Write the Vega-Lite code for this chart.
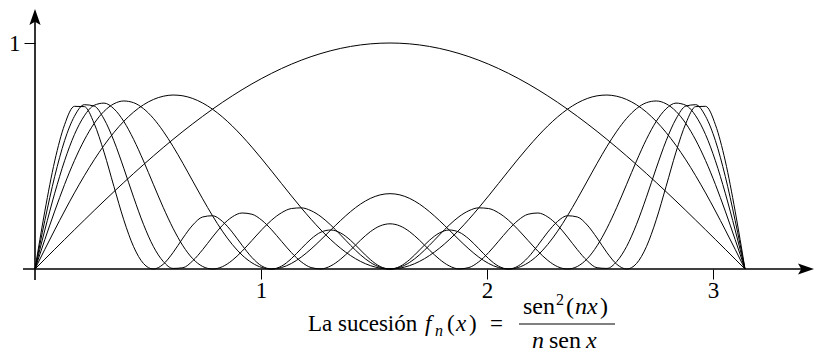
{
  "$schema": "https://vega.github.io/schema/vega-lite/v6.json",
  "width": 782,
  "height": 269,
  "autosize": {"type": "none"},
  "padding": {"left": 35, "top": 0, "right": 0, "bottom": 83},
  "background": "white",
  "config": {"view": {"stroke": null}},
  "layer": [
    {
      "data": {"values": [
        {"n":1,"x":0,"y":0},{"n":1,"x":0.0436,"y":0.0436},{"n":1,"x":0.0873,"y":0.0872},{"n":1,"x":0.1309,"y":0.1305},{"n":1,"x":0.1745,"y":0.1736},{"n":1,"x":0.2182,"y":0.2164},{"n":1,"x":0.2618,"y":0.2588},{"n":1,"x":0.3054,"y":0.3007},{"n":1,"x":0.3491,"y":0.342},{"n":1,"x":0.3927,"y":0.3827},{"n":1,"x":0.4363,"y":0.4226},{"n":1,"x":0.48,"y":0.4617},{"n":1,"x":0.5236,"y":0.5},{"n":1,"x":0.5672,"y":0.5373},{"n":1,"x":0.6109,"y":0.5736},{"n":1,"x":0.6545,"y":0.6088},{"n":1,"x":0.6981,"y":0.6428},{"n":1,"x":0.7418,"y":0.6756},{"n":1,"x":0.7854,"y":0.7071},{"n":1,"x":0.829,"y":0.7373},{"n":1,"x":0.8727,"y":0.766},{"n":1,"x":0.9163,"y":0.7934},{"n":1,"x":0.9599,"y":0.8192},{"n":1,"x":1.0036,"y":0.8434},{"n":1,"x":1.0472,"y":0.866},{"n":1,"x":1.0908,"y":0.887},{"n":1,"x":1.1345,"y":0.9063},{"n":1,"x":1.1781,"y":0.9239},{"n":1,"x":1.2217,"y":0.9397},{"n":1,"x":1.2654,"y":0.9537},{"n":1,"x":1.309,"y":0.9659},{"n":1,"x":1.3526,"y":0.9763},{"n":1,"x":1.3963,"y":0.9848},{"n":1,"x":1.4399,"y":0.9914},{"n":1,"x":1.4835,"y":0.9962},{"n":1,"x":1.5272,"y":0.999},{"n":1,"x":1.5708,"y":1},{"n":1,"x":1.6144,"y":0.999},{"n":1,"x":1.6581,"y":0.9962},{"n":1,"x":1.7017,"y":0.9914},{"n":1,"x":1.7453,"y":0.9848},{"n":1,"x":1.789,"y":0.9763},{"n":1,"x":1.8326,"y":0.9659},{"n":1,"x":1.8762,"y":0.9537},{"n":1,"x":1.9199,"y":0.9397},{"n":1,"x":1.9635,"y":0.9239},{"n":1,"x":2.0071,"y":0.9063},{"n":1,"x":2.0508,"y":0.887},{"n":1,"x":2.0944,"y":0.866},{"n":1,"x":2.138,"y":0.8434},{"n":1,"x":2.1817,"y":0.8192},{"n":1,"x":2.2253,"y":0.7934},{"n":1,"x":2.2689,"y":0.766},{"n":1,"x":2.3126,"y":0.7373},{"n":1,"x":2.3562,"y":0.7071},{"n":1,"x":2.3998,"y":0.6756},{"n":1,"x":2.4435,"y":0.6428},{"n":1,"x":2.4871,"y":0.6088},{"n":1,"x":2.5307,"y":0.5736},{"n":1,"x":2.5744,"y":0.5373},{"n":1,"x":2.618,"y":0.5},{"n":1,"x":2.6616,"y":0.4617},{"n":1,"x":2.7053,"y":0.4226},{"n":1,"x":2.7489,"y":0.3827},{"n":1,"x":2.7925,"y":0.342},{"n":1,"x":2.8362,"y":0.3007},{"n":1,"x":2.8798,"y":0.2588},{"n":1,"x":2.9234,"y":0.2164},{"n":1,"x":2.9671,"y":0.1736},{"n":1,"x":3.0107,"y":0.1305},{"n":1,"x":3.0543,"y":0.0872},{"n":1,"x":3.098,"y":0.0436},{"n":1,"x":3.1416,"y":0},
        {"n":2,"x":0,"y":0},{"n":2,"x":0.0436,"y":0.0871},{"n":2,"x":0.0873,"y":0.173},{"n":2,"x":0.1309,"y":0.2566},{"n":2,"x":0.1745,"y":0.3368},{"n":2,"x":0.2182,"y":0.4126},{"n":2,"x":0.2618,"y":0.483},{"n":2,"x":0.3054,"y":0.547},{"n":2,"x":0.3491,"y":0.604},{"n":2,"x":0.3927,"y":0.6533},{"n":2,"x":0.4363,"y":0.6943},{"n":2,"x":0.48,"y":0.7266},{"n":2,"x":0.5236,"y":0.75},{"n":2,"x":0.5672,"y":0.7644},{"n":2,"x":0.6109,"y":0.7698},{"n":2,"x":0.6545,"y":0.7663},{"n":2,"x":0.6981,"y":0.7544},{"n":2,"x":0.7418,"y":0.7345},{"n":2,"x":0.7854,"y":0.7071},{"n":2,"x":0.829,"y":0.673},{"n":2,"x":0.8727,"y":0.633},{"n":2,"x":0.9163,"y":0.588},{"n":2,"x":0.9599,"y":0.539},{"n":2,"x":1.0036,"y":0.487},{"n":2,"x":1.0472,"y":0.433},{"n":2,"x":1.0908,"y":0.3782},{"n":2,"x":1.1345,"y":0.3237},{"n":2,"x":1.1781,"y":0.2706},{"n":2,"x":1.2217,"y":0.2199},{"n":2,"x":1.2654,"y":0.1725},{"n":2,"x":1.309,"y":0.1294},{"n":2,"x":1.3526,"y":0.0915},{"n":2,"x":1.3963,"y":0.0594},{"n":2,"x":1.4399,"y":0.0338},{"n":2,"x":1.4835,"y":0.0151},{"n":2,"x":1.5272,"y":0.0038},{"n":2,"x":1.5708,"y":0},{"n":2,"x":1.6144,"y":0.0038},{"n":2,"x":1.6581,"y":0.0151},{"n":2,"x":1.7017,"y":0.0338},{"n":2,"x":1.7453,"y":0.0594},{"n":2,"x":1.789,"y":0.0915},{"n":2,"x":1.8326,"y":0.1294},{"n":2,"x":1.8762,"y":0.1725},{"n":2,"x":1.9199,"y":0.2199},{"n":2,"x":1.9635,"y":0.2706},{"n":2,"x":2.0071,"y":0.3237},{"n":2,"x":2.0508,"y":0.3782},{"n":2,"x":2.0944,"y":0.433},{"n":2,"x":2.138,"y":0.487},{"n":2,"x":2.1817,"y":0.539},{"n":2,"x":2.2253,"y":0.588},{"n":2,"x":2.2689,"y":0.633},{"n":2,"x":2.3126,"y":0.673},{"n":2,"x":2.3562,"y":0.7071},{"n":2,"x":2.3998,"y":0.7345},{"n":2,"x":2.4435,"y":0.7544},{"n":2,"x":2.4871,"y":0.7663},{"n":2,"x":2.5307,"y":0.7698},{"n":2,"x":2.5744,"y":0.7644},{"n":2,"x":2.618,"y":0.75},{"n":2,"x":2.6616,"y":0.7266},{"n":2,"x":2.7053,"y":0.6943},{"n":2,"x":2.7489,"y":0.6533},{"n":2,"x":2.7925,"y":0.604},{"n":2,"x":2.8362,"y":0.547},{"n":2,"x":2.8798,"y":0.483},{"n":2,"x":2.9234,"y":0.4126},{"n":2,"x":2.9671,"y":0.3368},{"n":2,"x":3.0107,"y":0.2566},{"n":2,"x":3.0543,"y":0.173},{"n":2,"x":3.098,"y":0.0871},{"n":2,"x":3.1416,"y":0},
        {"n":3,"x":0,"y":0},{"n":3,"x":0.0436,"y":0.1302},{"n":3,"x":0.0873,"y":0.2562},{"n":3,"x":0.1309,"y":0.374},{"n":3,"x":0.1745,"y":0.4799},{"n":3,"x":0.2182,"y":0.5707},{"n":3,"x":0.2618,"y":0.644},{"n":3,"x":0.3054,"y":0.6977},{"n":3,"x":0.3491,"y":0.731},{"n":3,"x":0.3927,"y":0.7435},{"n":3,"x":0.4363,"y":0.7359},{"n":3,"x":0.48,"y":0.7096},{"n":3,"x":0.5236,"y":0.6667},{"n":3,"x":0.5672,"y":0.6098},{"n":3,"x":0.6109,"y":0.5422},{"n":3,"x":0.6545,"y":0.4674},{"n":3,"x":0.6981,"y":0.3889},{"n":3,"x":0.7418,"y":0.3105},{"n":3,"x":0.7854,"y":0.2357},{"n":3,"x":0.829,"y":0.1676},{"n":3,"x":0.8727,"y":0.1088},{"n":3,"x":0.9163,"y":0.0615},{"n":3,"x":0.9599,"y":0.0273},{"n":3,"x":1.0036,"y":0.0067},{"n":3,"x":1.0472,"y":0},{"n":3,"x":1.0908,"y":0.0064},{"n":3,"x":1.1345,"y":0.0246},{"n":3,"x":1.1781,"y":0.0528},{"n":3,"x":1.2217,"y":0.0887},{"n":3,"x":1.2654,"y":0.1295},{"n":3,"x":1.309,"y":0.1726},{"n":3,"x":1.3526,"y":0.2149},{"n":3,"x":1.3963,"y":0.2539},{"n":3,"x":1.4399,"y":0.287},{"n":3,"x":1.4835,"y":0.3122},{"n":3,"x":1.5272,"y":0.328},{"n":3,"x":1.5708,"y":0.3333},{"n":3,"x":1.6144,"y":0.328},{"n":3,"x":1.6581,"y":0.3122},{"n":3,"x":1.7017,"y":0.287},{"n":3,"x":1.7453,"y":0.2539},{"n":3,"x":1.789,"y":0.2149},{"n":3,"x":1.8326,"y":0.1726},{"n":3,"x":1.8762,"y":0.1295},{"n":3,"x":1.9199,"y":0.0887},{"n":3,"x":1.9635,"y":0.0528},{"n":3,"x":2.0071,"y":0.0246},{"n":3,"x":2.0508,"y":0.0064},{"n":3,"x":2.0944,"y":0},{"n":3,"x":2.138,"y":0.0067},{"n":3,"x":2.1817,"y":0.0273},{"n":3,"x":2.2253,"y":0.0615},{"n":3,"x":2.2689,"y":0.1088},{"n":3,"x":2.3126,"y":0.1676},{"n":3,"x":2.3562,"y":0.2357},{"n":3,"x":2.3998,"y":0.3105},{"n":3,"x":2.4435,"y":0.3889},{"n":3,"x":2.4871,"y":0.4674},{"n":3,"x":2.5307,"y":0.5422},{"n":3,"x":2.5744,"y":0.6098},{"n":3,"x":2.618,"y":0.6667},{"n":3,"x":2.6616,"y":0.7096},{"n":3,"x":2.7053,"y":0.7359},{"n":3,"x":2.7489,"y":0.7435},{"n":3,"x":2.7925,"y":0.731},{"n":3,"x":2.8362,"y":0.6977},{"n":3,"x":2.8798,"y":0.644},{"n":3,"x":2.9234,"y":0.5707},{"n":3,"x":2.9671,"y":0.4799},{"n":3,"x":3.0107,"y":0.374},{"n":3,"x":3.0543,"y":0.2562},{"n":3,"x":3.098,"y":0.1302},{"n":3,"x":3.1416,"y":0},
        {"n":4,"x":0,"y":0},{"n":4,"x":0.0436,"y":0.1728},{"n":4,"x":0.0873,"y":0.3355},{"n":4,"x":0.1309,"y":0.4788},{"n":4,"x":0.1745,"y":0.5949},{"n":4,"x":0.2182,"y":0.6778},{"n":4,"x":0.2618,"y":0.7244},{"n":4,"x":0.3054,"y":0.7341},{"n":4,"x":0.3491,"y":0.7089},{"n":4,"x":0.3927,"y":0.6533},{"n":4,"x":0.4363,"y":0.5737},{"n":4,"x":0.48,"y":0.4781},{"n":4,"x":0.5236,"y":0.375},{"n":4,"x":0.5672,"y":0.273},{"n":4,"x":0.6109,"y":0.1801},{"n":4,"x":0.6545,"y":0.1027},{"n":4,"x":0.6981,"y":0.0455},{"n":4,"x":0.7418,"y":0.0112},{"n":4,"x":0.7854,"y":0},{"n":4,"x":0.829,"y":0.0102},{"n":4,"x":0.8727,"y":0.0382},{"n":4,"x":0.9163,"y":0.0788},{"n":4,"x":0.9599,"y":0.1261},{"n":4,"x":1.0036,"y":0.174},{"n":4,"x":1.0472,"y":0.2165},{"n":4,"x":1.0908,"y":0.2489},{"n":4,"x":1.1345,"y":0.2675},{"n":4,"x":1.1781,"y":0.2706},{"n":4,"x":1.2217,"y":0.258},{"n":4,"x":1.2654,"y":0.2315},{"n":4,"x":1.309,"y":0.1941},{"n":4,"x":1.3526,"y":0.1503},{"n":4,"x":1.3963,"y":0.1049},{"n":4,"x":1.4399,"y":0.063},{"n":4,"x":1.4835,"y":0.0294},{"n":4,"x":1.5272,"y":0.0076},{"n":4,"x":1.5708,"y":0},{"n":4,"x":1.6144,"y":0.0076},{"n":4,"x":1.6581,"y":0.0294},{"n":4,"x":1.7017,"y":0.063},{"n":4,"x":1.7453,"y":0.1049},{"n":4,"x":1.789,"y":0.1503},{"n":4,"x":1.8326,"y":0.1941},{"n":4,"x":1.8762,"y":0.2315},{"n":4,"x":1.9199,"y":0.258},{"n":4,"x":1.9635,"y":0.2706},{"n":4,"x":2.0071,"y":0.2675},{"n":4,"x":2.0508,"y":0.2489},{"n":4,"x":2.0944,"y":0.2165},{"n":4,"x":2.138,"y":0.174},{"n":4,"x":2.1817,"y":0.1261},{"n":4,"x":2.2253,"y":0.0788},{"n":4,"x":2.2689,"y":0.0382},{"n":4,"x":2.3126,"y":0.0102},{"n":4,"x":2.3562,"y":0},{"n":4,"x":2.3998,"y":0.0112},{"n":4,"x":2.4435,"y":0.0455},{"n":4,"x":2.4871,"y":0.1027},{"n":4,"x":2.5307,"y":0.1801},{"n":4,"x":2.5744,"y":0.273},{"n":4,"x":2.618,"y":0.375},{"n":4,"x":2.6616,"y":0.4781},{"n":4,"x":2.7053,"y":0.5737},{"n":4,"x":2.7489,"y":0.6533},{"n":4,"x":2.7925,"y":0.7089},{"n":4,"x":2.8362,"y":0.7341},{"n":4,"x":2.8798,"y":0.7244},{"n":4,"x":2.9234,"y":0.6778},{"n":4,"x":2.9671,"y":0.5949},{"n":4,"x":3.0107,"y":0.4788},{"n":4,"x":3.0543,"y":0.3355},{"n":4,"x":3.098,"y":0.1728},{"n":4,"x":3.1416,"y":0},
        {"n":5,"x":0,"y":0},{"n":5,"x":0.0436,"y":0.2148},{"n":5,"x":0.0873,"y":0.4099},{"n":5,"x":0.1309,"y":0.5678},{"n":5,"x":0.1745,"y":0.6759},{"n":5,"x":0.2182,"y":0.727},{"n":5,"x":0.2618,"y":0.721},{"n":5,"x":0.3054,"y":0.6638},{"n":5,"x":0.3491,"y":0.5671},{"n":5,"x":0.3927,"y":0.4461},{"n":5,"x":0.4363,"y":0.3176},{"n":5,"x":0.48,"y":0.1977},{"n":5,"x":0.5236,"y":0.1},{"n":5,"x":0.5672,"y":0.0337},{"n":5,"x":0.6109,"y":0.0026},{"n":5,"x":0.6545,"y":0.0056},{"n":5,"x":0.6981,"y":0.0364},{"n":5,"x":0.7418,"y":0.0855},{"n":5,"x":0.7854,"y":0.1414},{"n":5,"x":0.829,"y":0.193},{"n":5,"x":0.8727,"y":0.2305},{"n":5,"x":0.9163,"y":0.2478},{"n":5,"x":0.9599,"y":0.2423},{"n":5,"x":1.0036,"y":0.2157},{"n":5,"x":1.0472,"y":0.1732},{"n":5,"x":1.0908,"y":0.1226},{"n":5,"x":1.1345,"y":0.0726},{"n":5,"x":1.1781,"y":0.0317},{"n":5,"x":1.2217,"y":0.0064},{"n":5,"x":1.2654,"y":0.0004},{"n":5,"x":1.309,"y":0.0139},{"n":5,"x":1.3526,"y":0.0437},{"n":5,"x":1.3963,"y":0.0839},{"n":5,"x":1.4399,"y":0.127},{"n":5,"x":1.4835,"y":0.1649},{"n":5,"x":1.5272,"y":0.1908},{"n":5,"x":1.5708,"y":0.2},{"n":5,"x":1.6144,"y":0.1908},{"n":5,"x":1.6581,"y":0.1649},{"n":5,"x":1.7017,"y":0.127},{"n":5,"x":1.7453,"y":0.0839},{"n":5,"x":1.789,"y":0.0437},{"n":5,"x":1.8326,"y":0.0139},{"n":5,"x":1.8762,"y":0.0004},{"n":5,"x":1.9199,"y":0.0064},{"n":5,"x":1.9635,"y":0.0317},{"n":5,"x":2.0071,"y":0.0726},{"n":5,"x":2.0508,"y":0.1226},{"n":5,"x":2.0944,"y":0.1732},{"n":5,"x":2.138,"y":0.2157},{"n":5,"x":2.1817,"y":0.2423},{"n":5,"x":2.2253,"y":0.2478},{"n":5,"x":2.2689,"y":0.2305},{"n":5,"x":2.3126,"y":0.193},{"n":5,"x":2.3562,"y":0.1414},{"n":5,"x":2.3998,"y":0.0855},{"n":5,"x":2.4435,"y":0.0364},{"n":5,"x":2.4871,"y":0.0056},{"n":5,"x":2.5307,"y":0.0026},{"n":5,"x":2.5744,"y":0.0337},{"n":5,"x":2.618,"y":0.1},{"n":5,"x":2.6616,"y":0.1977},{"n":5,"x":2.7053,"y":0.3176},{"n":5,"x":2.7489,"y":0.4461},{"n":5,"x":2.7925,"y":0.5671},{"n":5,"x":2.8362,"y":0.6638},{"n":5,"x":2.8798,"y":0.721},{"n":5,"x":2.9234,"y":0.727},{"n":5,"x":2.9671,"y":0.6759},{"n":5,"x":3.0107,"y":0.5678},{"n":5,"x":3.0543,"y":0.4099},{"n":5,"x":3.098,"y":0.2148},{"n":5,"x":3.1416,"y":0},
        {"n":6,"x":0,"y":0},{"n":6,"x":0.0436,"y":0.256},{"n":6,"x":0.0873,"y":0.4781},{"n":6,"x":0.1309,"y":0.6384},{"n":6,"x":0.1745,"y":0.7198},{"n":6,"x":0.2182,"y":0.7185},{"n":6,"x":0.2618,"y":0.644},{"n":6,"x":0.3054,"y":0.5171},{"n":6,"x":0.3491,"y":0.3655},{"n":6,"x":0.3927,"y":0.2178},{"n":6,"x":0.4363,"y":0.0986},{"n":6,"x":0.48,"y":0.0242},{"n":6,"x":0.5236,"y":0},{"n":6,"x":0.5672,"y":0.0208},{"n":6,"x":0.6109,"y":0.0726},{"n":6,"x":0.6545,"y":0.1369},{"n":6,"x":0.6981,"y":0.1945},{"n":6,"x":0.7418,"y":0.2302},{"n":6,"x":0.7854,"y":0.2357},{"n":6,"x":0.829,"y":0.2109},{"n":6,"x":0.8727,"y":0.1632},{"n":6,"x":0.9163,"y":0.105},{"n":6,"x":0.9599,"y":0.0509},{"n":6,"x":1.0036,"y":0.0132},{"n":6,"x":1.0472,"y":0},{"n":6,"x":1.0908,"y":0.0126},{"n":6,"x":1.1345,"y":0.046},{"n":6,"x":1.1781,"y":0.0902},{"n":6,"x":1.2217,"y":0.133},{"n":6,"x":1.2654,"y":0.1631},{"n":6,"x":1.309,"y":0.1726},{"n":6,"x":1.3526,"y":0.1593},{"n":6,"x":1.3963,"y":0.1269},{"n":6,"x":1.4399,"y":0.0841},{"n":6,"x":1.4835,"y":0.0418},{"n":6,"x":1.5272,"y":0.0112},{"n":6,"x":1.5708,"y":0},{"n":6,"x":1.6144,"y":0.0112},{"n":6,"x":1.6581,"y":0.0418},{"n":6,"x":1.7017,"y":0.0841},{"n":6,"x":1.7453,"y":0.1269},{"n":6,"x":1.789,"y":0.1593},{"n":6,"x":1.8326,"y":0.1726},{"n":6,"x":1.8762,"y":0.1631},{"n":6,"x":1.9199,"y":0.133},{"n":6,"x":1.9635,"y":0.0902},{"n":6,"x":2.0071,"y":0.046},{"n":6,"x":2.0508,"y":0.0126},{"n":6,"x":2.0944,"y":0},{"n":6,"x":2.138,"y":0.0132},{"n":6,"x":2.1817,"y":0.0509},{"n":6,"x":2.2253,"y":0.105},{"n":6,"x":2.2689,"y":0.1632},{"n":6,"x":2.3126,"y":0.2109},{"n":6,"x":2.3562,"y":0.2357},{"n":6,"x":2.3998,"y":0.2302},{"n":6,"x":2.4435,"y":0.1945},{"n":6,"x":2.4871,"y":0.1369},{"n":6,"x":2.5307,"y":0.0726},{"n":6,"x":2.5744,"y":0.0208},{"n":6,"x":2.618,"y":0},{"n":6,"x":2.6616,"y":0.0242},{"n":6,"x":2.7053,"y":0.0986},{"n":6,"x":2.7489,"y":0.2178},{"n":6,"x":2.7925,"y":0.3655},{"n":6,"x":2.8362,"y":0.5171},{"n":6,"x":2.8798,"y":0.644},{"n":6,"x":2.9234,"y":0.7185},{"n":6,"x":2.9671,"y":0.7198},{"n":6,"x":3.0107,"y":0.6384},{"n":6,"x":3.0543,"y":0.4781},{"n":6,"x":3.098,"y":0.256},{"n":6,"x":3.1416,"y":0}
      ]},
      "mark": {"type": "line", "interpolate": "monotone", "color": "black", "strokeWidth": 1, "clip": false},
      "encoding": {
        "x": {"field": "x", "type": "quantitative", "title": null,
              "scale": {"domain": [0, 3.4602], "nice": false, "zero": false},
              "axis": {"values": [1, 2, 3], "format": "d", "domain": false, "grid": false, "tickSize": 10, "tickWidth": 1, "tickColor": "black",
                       "labelFont": "Liberation Serif", "labelFontSize": 23, "labelColor": "black", "labelPadding": 0, "labelFlush": false, "title": null}},
        "y": {"field": "y", "type": "quantitative", "title": null,
              "scale": {"domain": [0, 1.1903], "nice": false, "zero": false},
              "axis": {"values": [1], "format": "d", "domain": false, "grid": false, "tickSize": 11, "tickWidth": 1, "tickColor": "black",
                       "labelFont": "Liberation Serif", "labelFontSize": 23, "labelColor": "black", "labelPadding": 4, "labelFlush": false, "title": null}},
        "detail": {"field": "n", "type": "nominal"}
      }
    },
    {
      "data": {"values": [{}]},
      "mark": {"type": "rule", "color": "black", "strokeWidth": 1.6, "clip": false},
      "encoding": {
        "x": {"datum": -0.0531, "type": "quantitative", "title": null, "scale": {"domain": [0, 3.4602], "nice": false, "zero": false}},
        "x2": {"datum": 3.4115},
        "y": {"datum": 0, "type": "quantitative", "title": null, "scale": {"domain": [0, 1.1903], "nice": false, "zero": false}}
      }
    },
    {
      "data": {"values": [{}]},
      "mark": {"type": "rule", "color": "black", "strokeWidth": 1.6, "clip": false},
      "encoding": {
        "x": {"datum": 0, "type": "quantitative", "title": null, "scale": {"domain": [0, 3.4602], "nice": false, "zero": false}},
        "y": {"datum": -0.0487, "type": "quantitative", "title": null, "scale": {"domain": [0, 1.1903], "nice": false, "zero": false}},
        "y2": {"datum": 1.115}
      }
    },
    {
      "data": {"values": [{}]},
      "mark": {"type": "point", "filled": true, "color": "black", "opacity": 1, "size": 256, "shape": "M0,-1 L0.7,1 L0,0.6 L-0.7,1 Z", "clip": false},
      "encoding": {
        "x": {"datum": 0, "type": "quantitative", "title": null, "scale": {"domain": [0, 3.4602], "nice": false, "zero": false}},
        "y": {"datum": 1.115, "type": "quantitative", "title": null, "scale": {"domain": [0, 1.1903], "nice": false, "zero": false}}
      }
    },
    {
      "data": {"values": [{}]},
      "mark": {"type": "point", "filled": true, "color": "black", "opacity": 1, "size": 256, "shape": "M1,0 L-1,0.7 L-0.6,0 L-1,-0.7 Z", "clip": false},
      "encoding": {
        "x": {"datum": 3.4115, "type": "quantitative", "title": null, "scale": {"domain": [0, 3.4602], "nice": false, "zero": false}},
        "y": {"datum": 0, "type": "quantitative", "title": null, "scale": {"domain": [0, 1.1903], "nice": false, "zero": false}}
      }
    },
    {
      "data": {"values": [
        {"t": "La sucesión", "x": 1.208, "y": -0.2743},
        {"t": "(", "x": 1.823, "y": -0.2743},
        {"t": ")", "x": 1.9204, "y": -0.2743},
        {"t": "=", "x": 2.0133, "y": -0.2743}
      ]},
      "mark": {"type": "text", "font": "Liberation Serif", "fontSize": 23, "color": "black", "align": "left", "baseline": "alphabetic", "clip": false},
      "encoding": {
        "x": {"field": "x", "type": "quantitative", "title": null, "scale": {"domain": [0, 3.4602], "nice": false, "zero": false}},
        "y": {"field": "y", "type": "quantitative", "title": null, "scale": {"domain": [0, 1.1903], "nice": false, "zero": false}},
        "text": {"field": "t"}
      }
    },
    {
      "data": {"values": [
        {"t": "f", "x": 1.7257, "y": -0.2743},
        {"t": "x", "x": 1.8628, "y": -0.2743}
      ]},
      "mark": {"type": "text", "font": "Liberation Serif", "fontStyle": "italic", "fontSize": 23, "color": "black", "align": "left", "baseline": "alphabetic", "clip": false},
      "encoding": {
        "x": {"field": "x", "type": "quantitative", "title": null, "scale": {"domain": [0, 3.4602], "nice": false, "zero": false}},
        "y": {"field": "y", "type": "quantitative", "title": null, "scale": {"domain": [0, 1.1903], "nice": false, "zero": false}},
        "text": {"field": "t"}
      }
    },
    {
      "data": {"values": [
        {"t": "sen", "x": 2.1593, "y": -0.1991},
        {"t": "(", "x": 2.3496, "y": -0.1991},
        {"t": ")", "x": 2.5, "y": -0.1991},
        {"t": "sen", "x": 2.2743, "y": -0.3496}
      ]},
      "mark": {"type": "text", "font": "Liberation Serif", "fontSize": 24, "color": "black", "align": "left", "baseline": "alphabetic", "clip": false},
      "encoding": {
        "x": {"field": "x", "type": "quantitative", "title": null, "scale": {"domain": [0, 3.4602], "nice": false, "zero": false}},
        "y": {"field": "y", "type": "quantitative", "title": null, "scale": {"domain": [0, 1.1903], "nice": false, "zero": false}},
        "text": {"field": "t"}
      }
    },
    {
      "data": {"values": [
        {"t": "nx", "x": 2.3894, "y": -0.1991},
        {"t": "n", "x": 2.1991, "y": -0.3496},
        {"t": "x", "x": 2.4381, "y": -0.3496}
      ]},
      "mark": {"type": "text", "font": "Liberation Serif", "fontStyle": "italic", "fontSize": 24, "color": "black", "align": "left", "baseline": "alphabetic", "clip": false},
      "encoding": {
        "x": {"field": "x", "type": "quantitative", "title": null, "scale": {"domain": [0, 3.4602], "nice": false, "zero": false}},
        "y": {"field": "y", "type": "quantitative", "title": null, "scale": {"domain": [0, 1.1903], "nice": false, "zero": false}},
        "text": {"field": "t"}
      }
    },
    {
      "data": {"values": [
        {"t": "2", "x": 2.3053, "y": -0.1593}
      ]},
      "mark": {"type": "text", "font": "Liberation Serif", "fontSize": 16, "color": "black", "align": "left", "baseline": "alphabetic", "clip": false},
      "encoding": {
        "x": {"field": "x", "type": "quantitative", "title": null, "scale": {"domain": [0, 3.4602], "nice": false, "zero": false}},
        "y": {"field": "y", "type": "quantitative", "title": null, "scale": {"domain": [0, 1.1903], "nice": false, "zero": false}},
        "text": {"field": "t"}
      }
    },
    {
      "data": {"values": [
        {"t": "n", "x": 1.7699, "y": -0.2965}
      ]},
      "mark": {"type": "text", "font": "Liberation Serif", "fontStyle": "italic", "fontSize": 16, "color": "black", "align": "left", "baseline": "alphabetic", "clip": false},
      "encoding": {
        "x": {"field": "x", "type": "quantitative", "title": null, "scale": {"domain": [0, 3.4602], "nice": false, "zero": false}},
        "y": {"field": "y", "type": "quantitative", "title": null, "scale": {"domain": [0, 1.1903], "nice": false, "zero": false}},
        "text": {"field": "t"}
      }
    },
    {
      "data": {"values": [{}]},
      "mark": {"type": "rule", "color": "black", "strokeWidth": 1, "clip": false},
      "encoding": {
        "x": {"datum": 2.1416, "type": "quantitative", "title": null, "scale": {"domain": [0, 3.4602], "nice": false, "zero": false}},
        "x2": {"datum": 2.5664},
        "y": {"datum": -0.2434, "type": "quantitative", "title": null, "scale": {"domain": [0, 1.1903], "nice": false, "zero": false}}
      }
    }
  ]
}
